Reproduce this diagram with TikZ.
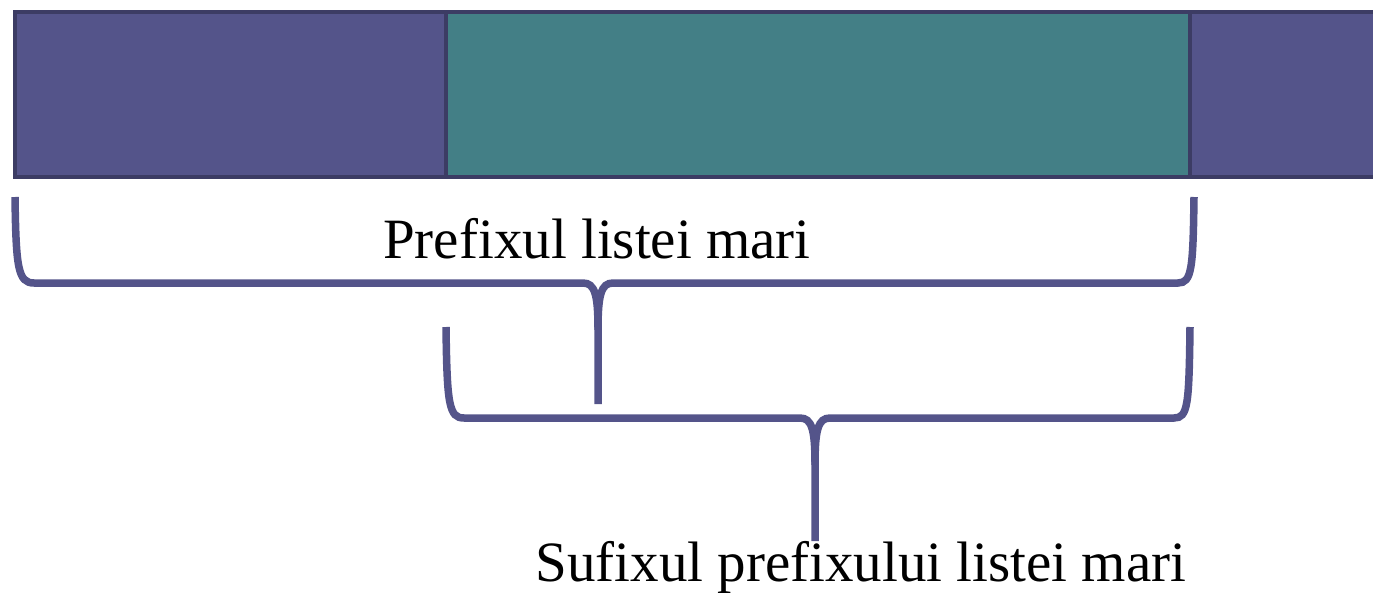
\documentclass[tikz,border=0pt]{standalone}
\usepackage{fontspec}
\setmainfont{Liberation Serif}
\definecolor{purp}{HTML}{54548A}
\definecolor{teal2}{HTML}{437F86}
\definecolor{edge}{HTML}{3C3C64}
\begin{document}
\begin{tikzpicture}[x=1pt,y=-1pt,
  blk/.style={draw=edge,line width=4pt,inner sep=0pt,outer sep=0pt},
  brc/.style={draw=purp,line width=7.5pt,line cap=butt},
  lbl/.style={font=\fontsize{57}{62}\selectfont,anchor=base,inner sep=0pt}]
\useasboundingbox (0,0) rectangle (1373,592);
\path[blk,fill=purp] (15,12) rectangle (446,177);
\path[blk,fill=purp] (1190,12) rectangle (1385,177);
\path[blk,fill=teal2] (446,12) rectangle (1190,177);
\node[lbl] (p) at (597,258) {Prefixul listei mari};
\node[lbl] (s) at (861,581) {Sufixul prefixului listei mari};
% brace 1
\draw[brc] (15,197) .. controls (16,268) and (18,283) .. (34,283) -- (583,283)
  .. controls (595,283) and (598,295) .. (598,330) -- (598,404);
\draw[brc] (598,330) .. controls (598,295) and (601,283) .. (613,283) -- (1178,283)
  .. controls (1192,283) and (1193,268) .. (1194,197);
% brace 2
\draw[brc] (446,327) .. controls (447,405) and (449,418) .. (464,418) -- (800,418)
  .. controls (812,418) and (815,430) .. (815,465) -- (815,541);
\draw[brc] (815,465) .. controls (815,430) and (818,418) .. (830,418) -- (1174,418)
  .. controls (1188,418) and (1189,405) .. (1190,327);
\end{tikzpicture}
\end{document}
